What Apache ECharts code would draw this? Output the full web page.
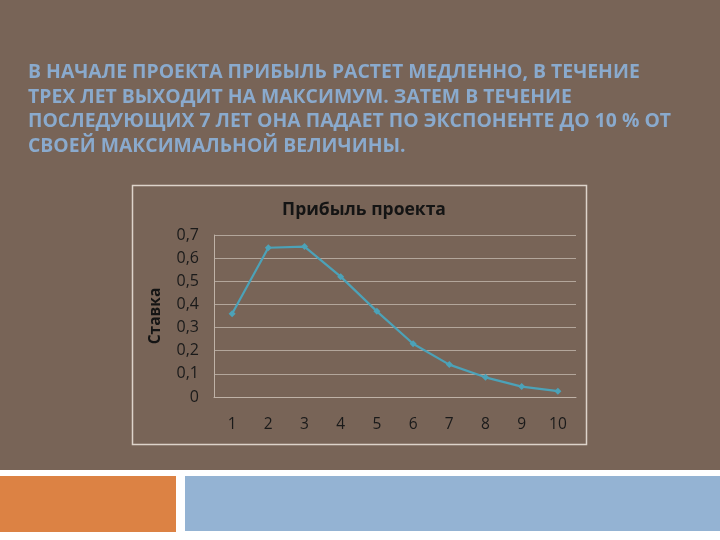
<!DOCTYPE html>
<html><head><meta charset="utf-8">
<script src="https://cdn.jsdelivr.net/npm/echarts@6/dist/echarts.min.js"></script>
<style>html,body{margin:0;padding:0;background:#786457;}#c{width:720px;height:540px;}</style>
</head><body><div id="c"></div>
<script>
var headlineLines = [
  'В НАЧАЛЕ ПРОЕКТА ПРИБЫЛЬ РАСТЕТ МЕДЛЕННО, В ТЕЧЕНИЕ',
  'ТРЕХ ЛЕТ ВЫХОДИТ НА МАКСИМУМ. ЗАТЕМ В ТЕЧЕНИЕ',
  'ПОСЛЕДУЮЩИХ 7 ЛЕТ ОНА ПАДАЕТ ПО ЭКСПОНЕНТЕ ДО 10 % ОТ',
  'СВОЕЙ МАКСИМАЛЬНОЙ ВЕЛИЧИНЫ.'
];
var chartTitle = 'Прибыль проекта';
var yAxisName = 'Ставка';
var years = ['1','2','3','4','5','6','7','8','9','10'];
var profit = [0.36, 0.645, 0.65, 0.52, 0.37, 0.23, 0.14, 0.085, 0.045, 0.025];

var chart = echarts.init(document.getElementById('c'));
var lineY = [73, 97.5, 122, 147];
var graphics = [
  {type:'rect', shape:{x:0,y:470,width:720,height:70}, style:{fill:'#ffffff'}, z:0},
  {type:'rect', shape:{x:0,y:476,width:176,height:56}, style:{fill:'#dc8244'}, z:1},
  {type:'rect', shape:{x:185,y:476,width:535,height:55}, style:{fill:'#94b3d3'}, z:1},
  {type:'rect', shape:{x:132.5,y:185.5,width:454,height:259}, style:{fill:'none', stroke:'#ddd3ca', lineWidth:1.5}, z:1}
];
headlineLines.forEach(function(t,i){
  graphics.push({type:'text', x:28, y:lineY[i], scaleX:1.02, originX:0,
    style:{text:t, fill:'#8aaacd', font:'bold 19px "Open Sans"', textVerticalAlign:'middle', textAlign:'left'}});
});
chart.setOption({
  backgroundColor:'#786457',
  animation:false,
  graphic: graphics,
  title:{text:chartTitle, left:359, top:196, textAlign:'center',
    textStyle:{color:'#141414', fontSize:17.5, fontWeight:'bold', fontFamily:'Open Sans'}},
  grid:{left:214, right:144, top:235, bottom:143},
  xAxis:{type:'category', data:years, boundaryGap:true,
    axisLine:{lineStyle:{color:'#bfb2a7'}}, axisTick:{show:false},
    axisLabel:{color:'#1a1a1a', fontSize:15.5, margin:20, fontFamily:'Open Sans'}},
  yAxis:{type:'value', min:0, max:0.7, interval:0.1,
    name:yAxisName, nameLocation:'middle', nameGap:50, nameRotate:90,
    nameTextStyle:{color:'#141414', fontSize:15.5, fontWeight:'bold', fontFamily:'Open Sans'},
    axisLine:{show:true, lineStyle:{color:'#bfb2a7'}}, axisTick:{show:false},
    splitLine:{lineStyle:{color:'#b3a69b', width:1}},
    axisLabel:{color:'#1a1a1a', fontSize:16, margin:15, fontFamily:'Open Sans',
      formatter:function(v){return String(Math.round(v*10)/10).replace('.',',');}}},
  series:[{type:'line', data:profit, symbol:'diamond', symbolSize:7,
    lineStyle:{color:'#4ca2b8', width:2.2}, itemStyle:{color:'#4ca2b8'}}]
});
</script></body></html>
